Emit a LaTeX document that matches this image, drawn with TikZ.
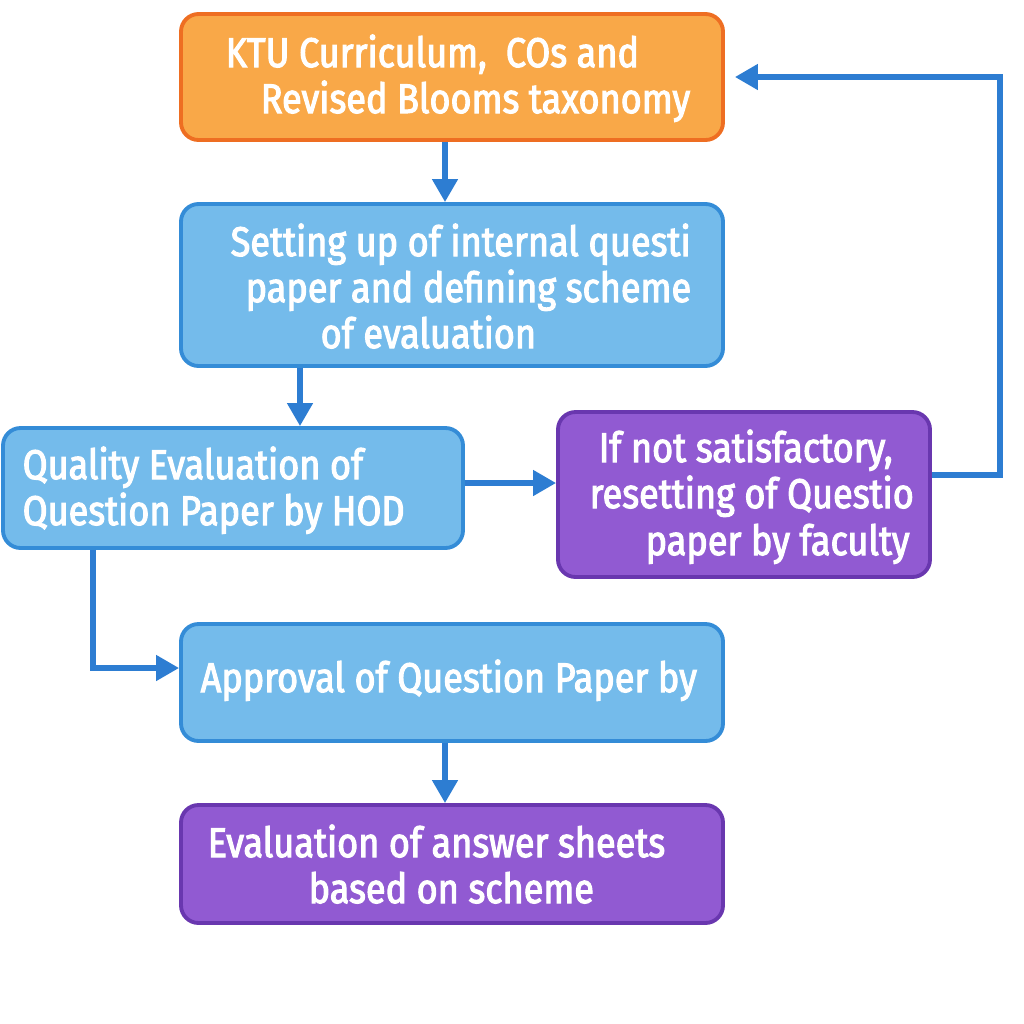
\documentclass[tikz,border=0pt]{standalone}
\usepackage{fontspec}
\setmainfont{Fira Sans}[FakeStretch=0.87,FakeBold=2.6]
\usetikzlibrary{arrows.meta}
\definecolor{ktuorange}{HTML}{F9A848}
\definecolor{ktuorangeline}{HTML}{EE6E22}
\definecolor{boxblue}{HTML}{74BBEB}
\definecolor{boxblueline}{HTML}{348CD7}
\definecolor{boxpurple}{HTML}{915AD2}
\definecolor{boxpurpleline}{HTML}{6937AF}
\definecolor{flowblue}{HTML}{2D7DD2}
\begin{document}
\begin{tikzpicture}[>={Triangle[width=7pt,length=6.5pt]},
  box/.style={draw,line width=1.1pt,rounded corners=5pt,inner sep=0pt},
  orangebox/.style={box,fill=ktuorange,draw=ktuorangeline},
  bluebox/.style={box,fill=boxblue,draw=boxblueline},
  purplebox/.style={box,fill=boxpurple,draw=boxpurpleline},
  txtline/.style={text=white,anchor=base west,inner sep=0pt,font=\fontsize{11.8}{14}\selectfont},
  flow/.style={->,line width=1.5pt,flowblue}]
  \useasboundingbox (0,0) rectangle (10.24,-10.24);

  \node[orangebox,minimum width=5.42cm,minimum height=1.26cm] (ktu) at (4.52,-0.77) {};
  \node[bluebox,minimum width=5.42cm,minimum height=1.62cm] (setq) at (4.52,-2.85) {};
  \node[bluebox,minimum width=4.60cm,minimum height=1.20cm] (qual) at (2.33,-4.88) {};
  \node[purplebox,minimum width=3.72cm,minimum height=1.65cm] (reset) at (7.44,-4.945) {};
  \node[bluebox,minimum width=5.42cm,minimum height=1.17cm] (appr) at (4.52,-6.825) {};
  \node[purplebox,minimum width=5.42cm,minimum height=1.18cm] (eval) at (4.52,-8.64) {};

  \foreach \x/\y/\t [count=\i] in {2.25/-0.67/{KTU Curriculum,~ COs and},2.60/-1.13/{Revised Blooms taxonomy},
      2.30/-2.56/{Setting up of internal questi},2.45/-3.02/{paper and defining scheme},3.20/-3.48/{of evaluation},
      0.22/-4.79/{Quality Evaluation of},0.22/-5.25/{Question Paper by HOD},
      5.98/-4.62/{If not satisfactory,},5.89/-5.08/{resetting of Questio},6.45/-5.55/{paper by faculty},
      2.00/-6.92/{Approval of Question Paper by},
      2.07/-8.57/{Evaluation of answer sheets},3.08/-9.03/{based on scheme}}
    \node[txtline] (line\i) at (\x,\y) {\t};

  \coordinate (midx) at (4.45,0);
  \coordinate (leftx) at (3.00,0);
  \coordinate (hody) at (0,-4.83);
  \coordinate (loopr) at (10.00,-4.75);
  \coordinate (downx) at (0.93,0);
  \coordinate (apry) at (0,-6.68);

  \draw[flow] (ktu.south -| midx) -- (setq.north -| midx);
  \draw[flow] (setq.south -| leftx) -- (qual.north -| leftx);
  \draw[flow] (qual.east |- hody) -- (reset.west |- hody);
  \draw[flow,shorten >=0.1cm] (reset.east |- loopr) -- (loopr) |- (ktu.east);
  \draw[flow] (qual.south -| downx) |- (appr.west |- apry);
  \draw[flow] (appr.south -| midx) -- (eval.north -| midx);

\end{tikzpicture}
\end{document}
